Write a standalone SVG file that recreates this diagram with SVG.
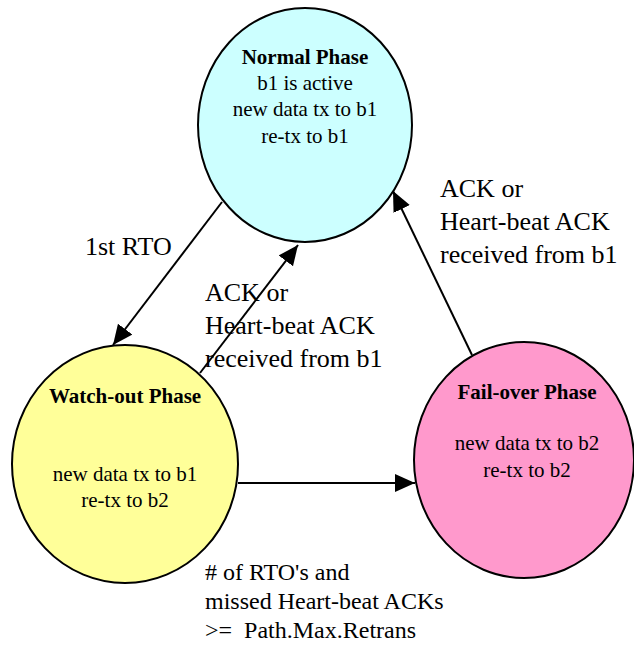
<svg xmlns="http://www.w3.org/2000/svg" width="634" height="645" viewBox="0 0 634 645">
<defs>
<marker id="ah" markerUnits="userSpaceOnUse" markerWidth="22" markerHeight="20" refX="20" refY="9" orient="auto">
<path d="M0,0 L20,9 L0,18 z" fill="#000"/>
</marker>
<style>
.st{stroke:#000;stroke-width:2}
.t{font-family:"Liberation Serif","Times New Roman",serif;font-size:21px;fill:#000;text-anchor:middle}
.b{font-weight:bold}
.l{font-family:"Liberation Serif","Times New Roman",serif;font-size:26px;fill:#000}
.l2{font-family:"Liberation Serif","Times New Roman",serif;font-size:24px;fill:#000}
.c{stroke:#000;stroke-width:2;fill:none;marker-end:url(#ah)}
</style>
</defs>
<rect width="634" height="645" fill="#fff"/>
<g id="normal">
<ellipse class="st" cx="305" cy="125" rx="107" ry="117" fill="#CCFFFF"/>
<text class="t b" x="305" y="64">Normal Phase</text>
<text class="t" x="305" y="90">b1 is active</text>
<text class="t" x="305" y="116">new data tx to b1</text>
<text class="t" x="305" y="143">re-tx to b1</text>
</g>
<g id="watchout">
<ellipse class="st" cx="125" cy="464" rx="113" ry="119" fill="#FFFF99"/>
<text class="t b" x="125" y="403">Watch-out Phase</text>
<text class="t" x="125" y="481">new data tx to b1</text>
<text class="t" x="125" y="507">re-tx to b2</text>
</g>
<g id="failover">
<ellipse class="st" cx="524" cy="460" rx="110" ry="118" fill="#FF99CC"/>
<text class="t b" x="527" y="399">Fail-over Phase</text>
<text class="t" x="527" y="450">new data tx to b2</text>
<text class="t" x="527" y="477">re-tx to b2</text>
</g>
<g id="connectors">
<line class="c" x1="222" y1="202" x2="113" y2="345"/>
<line class="c" x1="200" y1="373" x2="298" y2="245"/>
<line class="c" x1="472" y1="355" x2="393" y2="191"/>
<line class="c" x1="238" y1="483" x2="415" y2="483"/>
</g>
<g id="labels">
<text class="l" x="85" y="255">1st RTO</text>
<text class="l" x="205" y="301">ACK or</text>
<text class="l" x="205" y="334">Heart-beat ACK</text>
<text class="l" x="205" y="367">received from b1</text>
<text class="l" x="440" y="197">ACK or</text>
<text class="l" x="440" y="230">Heart-beat ACK</text>
<text class="l" x="440" y="263">received from b1</text>
<text class="l2" x="205" y="580"># of RTO's and</text>
<text class="l2" x="205" y="609">missed Heart-beat ACKs</text>
<text class="l2" x="205" y="638" xml:space="preserve">&gt;=  Path.Max.Retrans</text>
</g>
</svg>
